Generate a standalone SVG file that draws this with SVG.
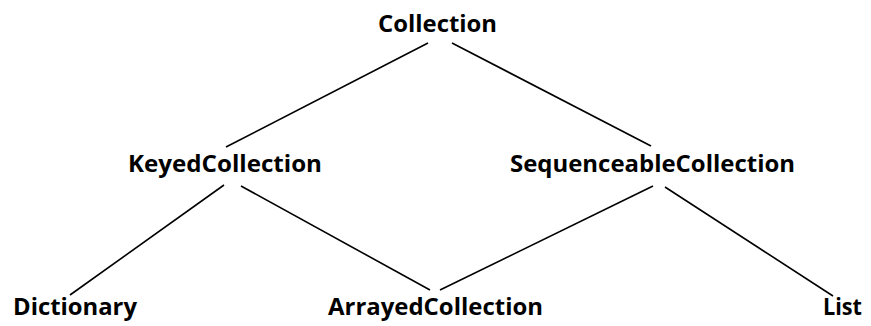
<svg xmlns="http://www.w3.org/2000/svg" width="871" height="326" viewBox="0 0 871 326">
<style>
text{font-family:"Open Sans","Liberation Sans",sans-serif;font-weight:700;font-size:24px;fill:#000}
line{stroke:#000;stroke-width:1.6}
</style>
<rect width="871" height="326" fill="#fff"/>
<g id="connectors">
<line x1="428" y1="43" x2="226" y2="147"/>
<line x1="452" y1="43" x2="651" y2="146"/>
<line x1="224" y1="185" x2="70" y2="295"/>
<line x1="241" y1="186" x2="430" y2="290"/>
<line x1="653" y1="186" x2="440" y2="290"/>
<line x1="665" y1="187" x2="833" y2="296"/>
</g>
<g id="collection"><text x="378" y="32" textLength="119" lengthAdjust="spacingAndGlyphs">Collection</text></g>
<g id="keyed"><text x="128" y="172" textLength="194" lengthAdjust="spacingAndGlyphs">KeyedCollection</text></g>
<g id="sequenceable"><text x="510" y="172" textLength="285" lengthAdjust="spacingAndGlyphs">SequenceableCollection</text></g>
<g id="dictionary"><text x="13" y="315" textLength="124" lengthAdjust="spacingAndGlyphs">Dictionary</text></g>
<g id="arrayed"><text x="328" y="315" textLength="215" lengthAdjust="spacingAndGlyphs">ArrayedCollection</text></g>
<g id="list"><text x="823" y="315" textLength="39" lengthAdjust="spacingAndGlyphs">List</text></g>
</svg>
